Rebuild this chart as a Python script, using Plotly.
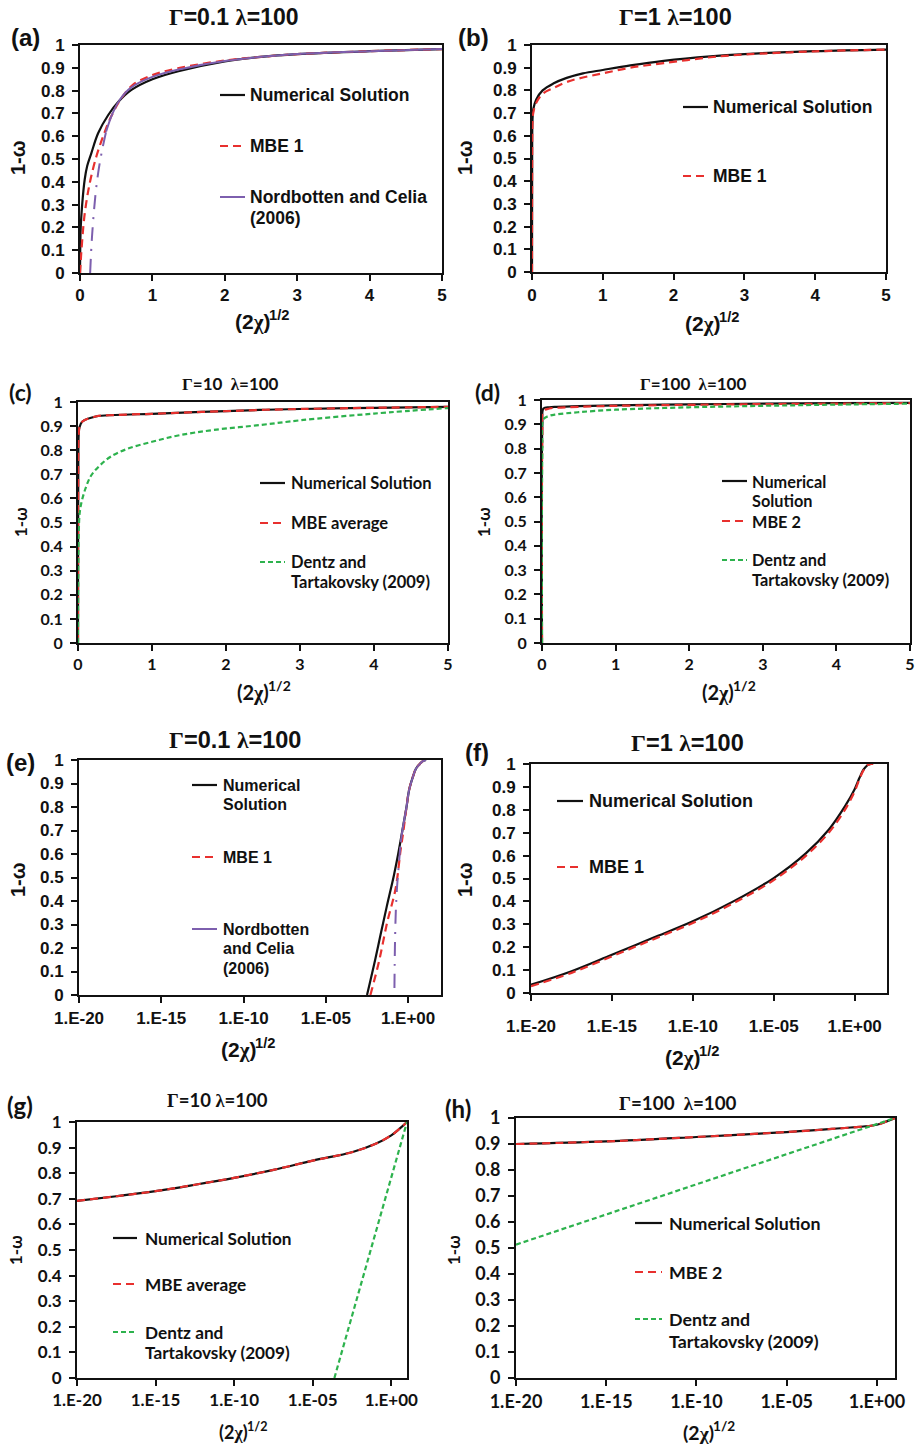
import plotly.graph_objects as go

W, H = 915, 1445

# ---------------- data ----------------
# (a) Gamma=0.1, linear x
a_x_num = [0, 0.003, 0.01, 0.03, 0.065, 0.1, 0.156, 0.25, 0.39, 0.53, 0.71, 1.0, 1.36, 2.0, 2.5, 3.0, 4.0, 5.0]
a_y_num = [0, 0.1, 0.2, 0.3, 0.41, 0.47, 0.525, 0.613, 0.693, 0.751, 0.803, 0.85, 0.885, 0.928, 0.948, 0.96, 0.973, 0.982]
a_x_mbe = [0, 0.01, 0.02, 0.065, 0.134, 0.225, 0.318, 0.43, 0.57, 0.73, 1.0, 1.35, 2.0, 2.5, 3.0, 4.0, 5.0]
a_y_mbe = [0, 0.05, 0.1, 0.26, 0.393, 0.51, 0.598, 0.686, 0.766, 0.825, 0.868, 0.898, 0.932, 0.948, 0.96, 0.973, 0.982]
a_x_nc_low = [0.14, 0.166, 0.211, 0.25, 0.30, 0.36]
a_y_nc_low = [0.0, 0.16, 0.335, 0.437, 0.53, 0.62]
a_x_nc_up = [0.36, 0.45, 0.55, 0.7, 1.0, 1.4, 2.0, 3.0, 4.0, 5.0]
a_y_nc_up = [0.62, 0.70, 0.76, 0.812, 0.86, 0.895, 0.93, 0.96, 0.973, 0.982]

# (b) Gamma=1, linear x
b_x = [0, 0.002, 0.005, 0.01, 0.02, 0.06, 0.15, 0.3, 0.49, 0.72, 1.0, 1.39, 1.86, 2.52, 3.0, 4.0, 5.0]
b_y_num = [0, 0.5, 0.65, 0.69, 0.72, 0.76, 0.8, 0.83, 0.855, 0.875, 0.89, 0.91, 0.93, 0.95, 0.96, 0.973, 0.98]
b_y_mbe = [0, 0.45, 0.63, 0.68, 0.705, 0.745, 0.785, 0.81, 0.837, 0.857, 0.875, 0.9, 0.92, 0.946, 0.958, 0.972, 0.98]

# (c) Gamma=10, linear x
c_x = [0, 0.002, 0.005, 0.01, 0.02, 0.06, 0.24, 0.5, 1.0, 1.5, 2.0, 2.45, 3.0, 4.0, 5.0]
c_y_num = [0, 0.5, 0.8, 0.87, 0.895, 0.919, 0.94, 0.946, 0.951, 0.957, 0.962, 0.967, 0.971, 0.976, 0.98]
c_y_mbe = [0, 0.5, 0.8, 0.87, 0.895, 0.919, 0.94, 0.946, 0.951, 0.957, 0.962, 0.967, 0.971, 0.976, 0.98]
c_x_dt = [0, 0.002, 0.005, 0.01, 0.03, 0.1, 0.18, 0.3, 0.44, 0.67, 1.0, 1.37, 1.83, 2.48, 3.0, 4.0, 5.0]
c_y_dt = [0, 0.2, 0.35, 0.46, 0.557, 0.64, 0.696, 0.738, 0.773, 0.806, 0.835, 0.862, 0.884, 0.905, 0.924, 0.952, 0.975]

# (d) Gamma=100, linear x
d_x = [0, 0.005, 0.02, 0.1, 0.2, 0.5, 1.0, 2.0, 3.0, 4.0, 5.0]
d_y_num = [0, 0.9, 0.965, 0.97, 0.972, 0.975, 0.978, 0.982, 0.985, 0.987, 0.988]
d_y_mbe = [0, 0.85, 0.955, 0.965, 0.968, 0.972, 0.976, 0.98, 0.983, 0.985, 0.987]
d_y_dt = [0, 0.8, 0.92, 0.935, 0.941, 0.95, 0.96, 0.97, 0.976, 0.981, 0.985]

# (e) Gamma=0.1, log x
e_x_num = [3.2e-3, 1e-2, 2.1e-2, 5e-2, 0.138, 0.25, 0.45, 0.8, 1.15, 2.0, 2.95, 5.0, 7.9, 12.3]
e_y_num = [0, 0.15, 0.255, 0.375, 0.51, 0.6, 0.7, 0.8, 0.872, 0.93, 0.962, 0.982, 0.995, 1.0]
e_x_mbe = [5.1e-3, 1.66e-2, 5.4e-2, 0.174, 0.355, 0.5, 0.8, 1.15, 2.0, 2.95, 5.0, 7.9, 12.3]
e_y_mbe = [0, 0.139, 0.31, 0.452, 0.62, 0.69, 0.8, 0.872, 0.93, 0.962, 0.982, 0.995, 1.0]
e_x_nc_low = [0.148, 0.158, 0.178, 0.209, 0.27, 0.355]
e_y_nc_low = [0.03, 0.2, 0.35, 0.45, 0.55, 0.65]
e_x_nc_up = [0.355, 0.45, 0.8, 1.15, 2.0, 2.95, 5.0, 7.9, 12.3]
e_y_nc_up = [0.65, 0.7, 0.8, 0.872, 0.93, 0.962, 0.982, 0.995, 1.0]

# (f) Gamma=1, log x
f_x = [1e-20, 3.2e-18, 1e-15, 3.2e-13, 1e-10, 3.2e-8, 1e-5, 1e-3, 2.5e-2, 0.25, 1.0, 2.0, 3.5, 6.3, 10.0, 14.0]
f_y_num = [0.036, 0.095, 0.167, 0.24, 0.313, 0.4, 0.502, 0.611, 0.713, 0.815, 0.89, 0.94, 0.975, 0.995, 1.0, 1.0]
f_y_mbe = [0.03, 0.088, 0.16, 0.233, 0.306, 0.392, 0.493, 0.6, 0.70, 0.80, 0.88, 0.935, 0.972, 0.995, 1.0, 1.0]

# (g) Gamma=10, log x
g_x = [1e-20, 3.2e-18, 1e-15, 3.2e-13, 1e-10, 3.2e-8, 1e-5, 3.5e-3, 0.11, 1.0, 3.4, 10.0]
g_y_num = [0.692, 0.71, 0.73, 0.755, 0.782, 0.813, 0.849, 0.883, 0.916, 0.948, 0.974, 1.0]
g_y_mbe = [0.692, 0.71, 0.73, 0.755, 0.782, 0.813, 0.849, 0.883, 0.916, 0.948, 0.974, 1.0]
g_x_dt = [2.4e-4, 4.9e-2, 10.0]
g_y_dt = [0.0, 0.5, 1.0]

# (h) Gamma=100, log x
h_x = [1e-20, 1e-15, 1e-10, 1e-5, 3.2e-3, 1.0, 3.2, 10.0]
h_y_num = [0.9, 0.91, 0.927, 0.946, 0.958, 0.974, 0.986, 1.0]
h_y_mbe = [0.9, 0.91, 0.927, 0.946, 0.958, 0.974, 0.986, 1.0]
h_x_dt = [1e-20, 1e-10, 10.0]
h_y_dt = [0.513, 0.745, 1.0]

lin_ticks = [0, 1, 2, 3, 4, 5]
log_ticks = [1e-20, 1e-15, 1e-10, 1e-5, 1.0]
log_ticktext = ["1.E-20", "1.E-15", "1.E-10", "1.E-05", "1.E+00"]

# ---------------- styles ----------------
BLACK = "#111111"
RED = "#e8302e"
GREEN = "#2db24d"
PURPLE = "#7d5fae"
FA = "Liberation Sans, Arial, sans-serif"
FC = "Lato, Carlito, sans-serif"
SERIF = "Liberation Serif"

STY = {
    "num": dict(color=BLACK, width=2.2, dash="solid"),
    "mbe": dict(color=RED, width=2.2, dash="8px,5px"),
    "dt": dict(color=GREEN, width=2.2, dash="5px,3px"),
    "nc": dict(color=PURPLE, width=2.0, dash="solid"),
    "ncd": dict(color=PURPLE, width=2.0, dash="14px,8px,2px,8px"),
}


def px(x):
    return x / W


def py(y):
    return 1 - y / H


def greek(ch):
    return "<span style=\"font-family:%s\">%s</span>" % (SERIF, ch)


panels = [
    dict(key="a", box=(80, 442, 45, 273), log=False, xr=[0, 5], font=FA, tick=17, xso=0,
         title=greek("Γ") + "=0.1 " + greek("λ") + "=100",
         tsize=23, tpos=(234, 17), lab="(a)", lpos=(25, 38), lsize=24,
         ytpos=(18, 158), ytsize=20, xtpos=(262, 322), xtsize=21,
         traces=[("num", a_x_num, a_y_num), ("mbe", a_x_mbe, a_y_mbe),
                 ("ncd", a_x_nc_low, a_y_nc_low), ("nc", a_x_nc_up, a_y_nc_up)],
         leg=dict(x0=220, x1=245, tx=248, size=17.5,
                  items=[("num", 95, ["Numerical Solution"]), ("mbe", 146, ["MBE 1"]),
                         ("nc", 197, ["Nordbotten and Celia", "(2006)"])])),
    dict(key="b", box=(532, 886, 45, 272), log=False, xr=[0, 5], font=FA, tick=17, xso=1,
         title=greek("Γ") + "=1 " + greek("λ") + "=100",
         tsize=23.5, tpos=(675, 17), lab="(b)", lpos=(473, 38), lsize=24,
         ytpos=(465, 158), ytsize=20, xtpos=(712, 324), xtsize=21,
         traces=[("num", b_x, b_y_num), ("mbe", b_x, b_y_mbe)],
         leg=dict(x0=683, x1=708, tx=711, size=17.5,
                  items=[("num", 107, ["Numerical Solution"]), ("mbe", 176, ["MBE 1"])])),
    dict(key="c", box=(78, 448, 402, 643), log=False, xr=[0, 5], font=FC, tick=16, xso=0,
         title=greek("Γ") + "=10  " + greek("λ") + "=100",
         tsize=17, tpos=(230, 383), lab="(c)", lpos=(20, 392), lsize=23,
         ytpos=(20, 522), ytsize=17, xtpos=(262, 692), xtsize=20,
         traces=[("num", c_x, c_y_num), ("mbe", c_x, c_y_mbe), ("dt", c_x_dt, c_y_dt)],
         leg=dict(x0=260, x1=285, tx=289, size=16.5,
                  items=[("num", 483, ["Numerical Solution"]), ("mbe", 523, ["MBE average"]),
                         ("dt", 562, ["Dentz and", "Tartakovsky (2009)"])])),
    dict(key="d", box=(542, 910, 400, 643), log=False, xr=[0, 5], font=FC, tick=16, xso=0,
         title=greek("Γ") + "=100  " + greek("λ") + "=100",
         tsize=17, tpos=(693, 383), lab="(d)", lpos=(487, 392), lsize=23,
         ytpos=(483, 522), ytsize=17, xtpos=(727, 692), xtsize=20,
         traces=[("num", d_x, d_y_num), ("mbe", d_x, d_y_mbe), ("dt", d_x, d_y_dt)],
         leg=dict(x0=722, x1=747, tx=750, size=16.3,
                  items=[("num", 481, ["Numerical", "Solution"]), ("mbe", 521, ["MBE 2"]),
                         ("dt", 560, ["Dentz and", "Tartakovsky (2009)"])])),
    dict(key="e", box=(79, 441, 760, 995), log=True, xr=[-20, 2], font=FA, tick=17, xso=1,
         title=greek("Γ") + "=0.1 " + greek("λ") + "=100",
         tsize=23.5, tpos=(235, 740), lab="(e)", lpos=(20, 762), lsize=24,
         ytpos=(18, 880), ytsize=20, xtpos=(248, 1050), xtsize=21,
         traces=[("num", e_x_num, e_y_num), ("mbe", e_x_mbe, e_y_mbe),
                 ("ncd", e_x_nc_low, e_y_nc_low), ("nc", e_x_nc_up, e_y_nc_up)],
         leg=dict(x0=192, x1=217, tx=221, size=16,
                  items=[("num", 785, ["Numerical", "Solution"]), ("mbe", 857, ["MBE 1"]),
                         ("nc", 929, ["Nordbotten", "and Celia", "(2006)"])])),
    dict(key="f", box=(531, 887, 764, 993), log=True, xr=[-20, 2], font=FA, tick=17, xso=11,
         title=greek("Γ") + "=1 " + greek("λ") + "=100",
         tsize=23.5, tpos=(687, 743), lab="(f)", lpos=(477, 752), lsize=24,
         ytpos=(465, 880), ytsize=20, xtpos=(692, 1058), xtsize=21,
         traces=[("num", f_x, f_y_num), ("mbe", f_x, f_y_mbe)],
         leg=dict(x0=557, x1=583, tx=587, size=18,
                  items=[("num", 801, ["Numerical Solution"]), ("mbe", 867, ["MBE 1"])])),
    dict(key="g", box=(77, 407, 1122, 1378), log=True, xr=[-20, 1], font=FC, tick=17, xso=0,
         title=greek("Γ") + "=10 " + greek("λ") + "=100",
         tsize=18.5, tpos=(217, 1100), lab="(g)", lpos=(20, 1105), lsize=24,
         ytpos=(15, 1250), ytsize=17, xtpos=(242, 1432), xtsize=18,
         traces=[("num", g_x, g_y_num), ("mbe", g_x, g_y_mbe), ("dt", g_x_dt, g_y_dt)],
         leg=dict(x0=113, x1=137, tx=143, size=17.2,
                  items=[("num", 1238, ["Numerical Solution"]), ("mbe", 1284, ["MBE average"]),
                         ("dt", 1332, ["Dentz and", "Tartakovsky (2009)"])])),
    dict(key="h", box=(516, 895, 1118, 1378), log=True, xr=[-20, 1], font=FC, tick=18, xso=0,
         title=greek("Γ") + "=100  " + greek("λ") + "=100",
         tsize=18.8, tpos=(678, 1102), lab="(h)", lpos=(458, 1108), lsize=24,
         ytpos=(453, 1250), ytsize=17, xtpos=(707, 1432), xtsize=19.5,
         traces=[("num", h_x, h_y_num), ("mbe", h_x, h_y_mbe), ("dt", h_x_dt, h_y_dt)],
         leg=dict(x0=635, x1=662, tx=667, size=17.8,
                  items=[("num", 1223, ["Numerical Solution"]), ("mbe", 1272, ["MBE 2"]),
                         ("dt", 1319, ["Dentz and", "Tartakovsky (2009)"])])),
]

fig = go.Figure()
annotations = []
shapes = []
layout = dict(width=W, height=H, margin=dict(l=0, r=0, t=0, b=0, autoexpand=False),
              paper_bgcolor="white", plot_bgcolor="white", showlegend=False)


def ann(text, x, y, size, family, xanchor="center", angle=0):
    annotations.append(dict(text=text, x=px(x), y=py(y), xref="paper", yref="paper",
                            xanchor=xanchor, yanchor="middle", showarrow=False, textangle=angle,
                            font=dict(family=family, size=size, color=BLACK, weight="bold")))


for i, p in enumerate(panels, start=1):
    xa = "xaxis" if i == 1 else "xaxis%d" % i
    ya = "yaxis" if i == 1 else "yaxis%d" % i
    xr = "x" if i == 1 else "x%d" % i
    yr = "y" if i == 1 else "y%d" % i
    x0, x1, y0, y1 = p["box"]
    common = dict(showline=True, linecolor=BLACK, linewidth=2, mirror=True,
                  ticks="outside", ticklen=6, tickwidth=1.5, tickcolor=BLACK,
                  showgrid=False, zeroline=False, automargin=False,
                  tickfont=dict(family=p["font"], size=p["tick"], color=BLACK, weight="bold"))
    xcfg = dict(common, domain=[px(x0), px(x1)], anchor=yr, range=p["xr"], ticklabelstandoff=p["xso"])
    if p["log"]:
        xcfg.update(type="log", tickvals=log_ticks, ticktext=log_ticktext)
    else:
        xcfg.update(tickvals=lin_ticks)
    ycfg = dict(common, domain=[py(y1), py(y0)], anchor=xr, range=[0, 1], dtick=0.1, tick0=0,
                ticklabelstandoff=4)
    layout[xa] = xcfg
    layout[ya] = ycfg

    for kind, xs, ys in p["traces"]:
        fig.add_trace(go.Scatter(x=xs, y=ys, mode="lines", line=STY[kind],
                                 xaxis=xr, yaxis=yr, hoverinfo="skip", showlegend=False,
                                 line_shape="spline" if kind != "dt" or not p["log"] else "linear"))

    ann(p["title"], p["tpos"][0], p["tpos"][1], p["tsize"], p["font"])
    ann(p["lab"], p["lpos"][0], p["lpos"][1], p["lsize"], p["font"])
    ann("1-ω", p["ytpos"][0], p["ytpos"][1], p["ytsize"], p["font"], angle=-90)
    # x title "(2χ)" with a raised "1/2" exponent
    s = p["xtsize"]
    split = p["xtpos"][0] + 0.36 * s
    annotations.append(dict(text="(2" + greek("χ") + ")", x=px(split), y=py(p["xtpos"][1]),
                            xref="paper", yref="paper", xanchor="right", yanchor="middle",
                            showarrow=False, borderpad=0, borderwidth=0,
                            font=dict(family=p["font"], size=s, color=BLACK, weight="bold")))
    annotations.append(dict(text="1/2", x=px(split - 1), y=py(p["xtpos"][1] - 0.33 * s),
                            xref="paper", yref="paper", xanchor="left", yanchor="middle",
                            showarrow=False, borderpad=0, borderwidth=0,
                            font=dict(family=p["font"], size=0.7 * s, color=BLACK, weight="bold")))

    lg = p["leg"]
    lh = lg["size"] * 1.22
    for kind, ly, lines in lg["items"]:
        st = STY[kind]
        shapes.append(dict(type="line", xref="paper", yref="paper",
                           x0=px(lg["x0"]), x1=px(lg["x1"]), y0=py(ly), y1=py(ly),
                           line=dict(color=st["color"], width=st["width"], dash=st["dash"])))
        for k, t in enumerate(lines):
            ann(t, lg["tx"], ly + k * lh, lg["size"], p["font"], xanchor="left")

layout["annotations"] = annotations
layout["shapes"] = shapes
fig.update_layout(**layout)
fig.write_html("out.html")
